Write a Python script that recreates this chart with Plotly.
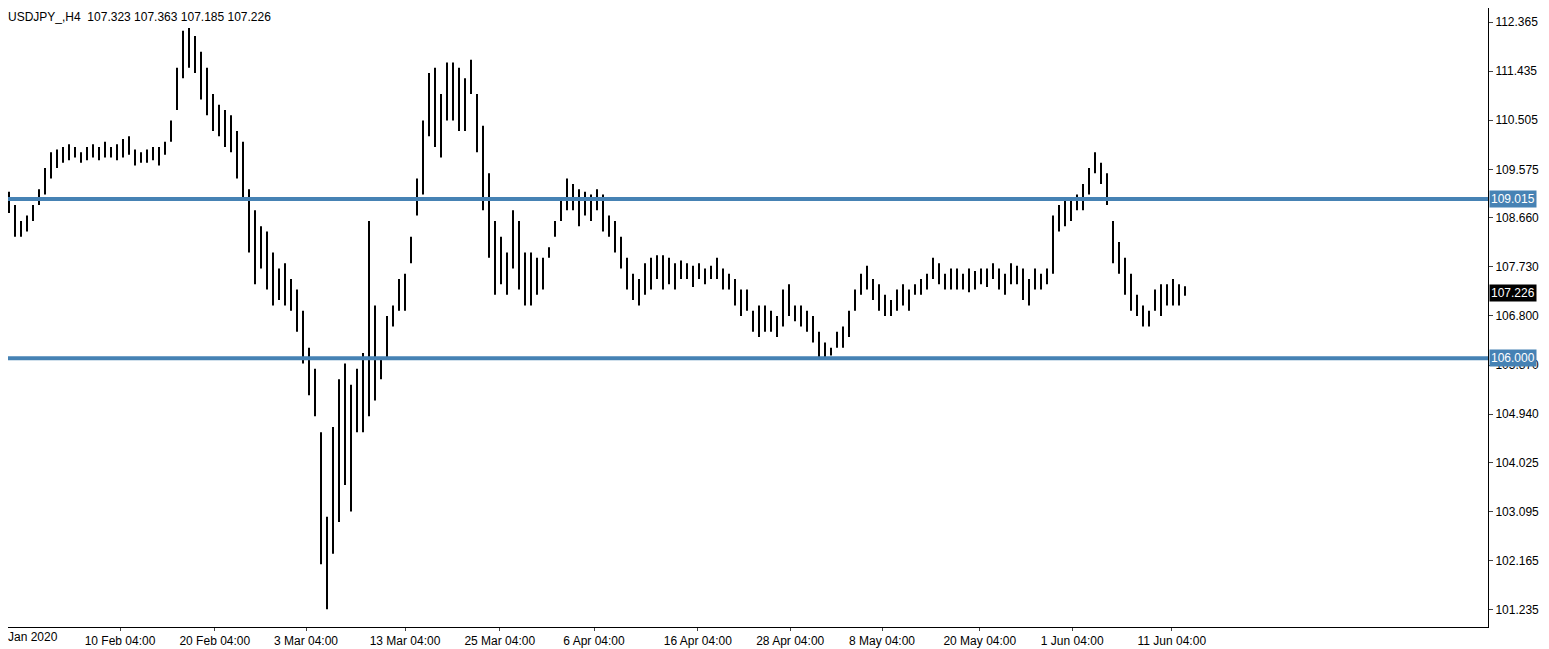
import plotly.graph_objects as go

# H4 bar highs / lows (one bar per ~6px)
highs = [109.1, 109.15, 108.9, 108.6, 108.7, 108.9, 109.2, 109.6, 109.9, 109.95,
         110.0, 110.05, 110.0, 109.9, 110.0, 110.05, 110.0, 110.1, 110.0, 110.05,
         110.15, 110.2, 109.95, 109.9, 109.95, 110.0, 110.0, 110.1, 110.5, 111.5,
         112.2, 112.25, 112.1, 111.8, 111.5, 111.0, 110.8, 110.7, 110.6, 110.3,
         110.1, 109.2, 108.8, 108.5, 108.4, 108.0, 107.7, 107.8, 107.5, 107.3,
         106.9, 106.2, 105.8, 104.6, 103.0, 104.7, 105.6, 105.9, 105.5, 105.8,
         106.1, 108.6, 107.0, 106.0, 106.8, 107.0, 107.5, 107.6, 108.3, 109.4,
         110.5, 111.4, 111.5, 111.0, 111.6, 111.6, 111.5, 111.3, 111.65, 111.0,
         110.4, 109.5, 108.6, 108.3, 108.0, 108.8, 108.6, 108.0, 108.0, 107.9,
         107.9, 108.1, 108.6, 109.0, 109.4, 109.3, 109.2, 109.15, 109.1, 109.2,
         109.1, 108.7, 108.6, 108.3, 107.9, 107.6, 107.5, 107.8, 107.9, 107.95,
         107.95, 107.9, 107.8, 107.85, 107.8, 107.75, 107.8, 107.7, 107.75, 107.9,
         107.7, 107.6, 107.5, 107.3, 107.3, 106.9, 107.0, 107.0, 106.9, 106.8,
         107.3, 107.4, 107.0, 107.0, 106.9, 106.8, 106.5, 106.3, 106.2, 106.5,
         106.6, 106.9, 107.3, 107.6, 107.75, 107.5, 107.4, 107.2, 107.1, 107.3,
         107.4, 107.3, 107.4, 107.5, 107.6, 107.9, 107.8, 107.6, 107.7, 107.7,
         107.6, 107.7, 107.65, 107.7, 107.7, 107.8, 107.7, 107.6, 107.8, 107.75,
         107.7, 107.5, 107.7, 107.6, 107.7, 108.7, 108.9, 109.0, 109.0, 109.1,
         109.3, 109.6, 109.9, 109.7, 109.5, 108.6, 108.2, 107.9, 107.6, 107.2,
         107.0, 106.9, 107.3, 107.4, 107.4, 107.5, 107.4, 107.363]
lows = [108.6, 108.75, 108.3, 108.3, 108.4, 108.6, 108.9, 109.1, 109.4, 109.6,
        109.7, 109.75, 109.8, 109.7, 109.75, 109.8, 109.75, 109.8, 109.8, 109.75,
        109.8, 109.85, 109.65, 109.7, 109.7, 109.75, 109.65, 109.85, 110.1, 110.7,
        111.3, 111.5, 111.4, 110.9, 110.6, 110.3, 110.2, 110.0, 109.9, 109.4,
        109.0, 108.0, 107.4, 107.7, 107.3, 107.0, 107.1, 107.0, 106.9, 106.5,
        105.9, 105.3, 104.9, 102.1, 101.25, 102.3, 102.9, 103.6, 103.1, 104.6,
        104.6, 104.9, 105.2, 105.6, 106.0, 106.6, 106.9, 106.9, 107.8, 108.7,
        109.1, 110.2, 110.0, 109.8, 110.5, 110.5, 110.3, 110.3, 111.0, 109.9,
        108.8, 107.9, 107.2, 107.4, 107.2, 107.7, 107.3, 107.0, 107.0, 107.2,
        107.3, 107.9, 108.3, 108.6, 108.8, 108.8, 108.5, 108.7, 108.6, 108.8,
        108.4, 108.3, 108.0, 107.7, 107.3, 107.1, 107.0, 107.2, 107.3, 107.5,
        107.3, 107.4, 107.3, 107.5, 107.5, 107.35, 107.5, 107.4, 107.5, 107.5,
        107.3, 107.3, 107.0, 106.8, 106.9, 106.5, 106.4, 106.5, 106.5, 106.4,
        106.6, 106.8, 106.7, 106.6, 106.5, 106.3, 106.0, 106.0, 106.05, 106.2,
        106.2, 106.4, 106.9, 107.2, 107.3, 107.1, 106.9, 106.8, 106.8, 106.9,
        107.0, 106.9, 107.2, 107.2, 107.3, 107.5, 107.4, 107.3, 107.3, 107.3,
        107.3, 107.25, 107.3, 107.4, 107.35, 107.5, 107.3, 107.2, 107.4, 107.4,
        107.1, 107.0, 107.3, 107.3, 107.4, 107.6, 108.4, 108.5, 108.6, 108.8,
        108.8, 109.1, 109.5, 109.3, 108.9, 107.8, 107.6, 107.2, 106.9, 106.8,
        106.6, 106.6, 106.9, 106.8, 107.0, 107.0, 107.0, 107.185]

first_label = "Jan 2020"
x_ticks = [19.5, 35.3, 50.5, 67, 82.8, 98.5, 115.8, 131.2, 146.5, 162.8, 178.2, 194.8]
x_labels = ["10 Feb 04:00", "20 Feb 04:00", "3 Mar 04:00", "13 Mar 04:00",
            "25 Mar 04:00", "6 Apr 04:00", "16 Apr 04:00", "28 Apr 04:00", "8 May 04:00",
            "20 May 04:00", "1 Jun 04:00", "11 Jun 04:00"]
y_ticks = [112.365, 111.435, 110.505, 109.575, 108.660, 107.730, 106.800,
           105.870, 104.940, 104.025, 103.095, 102.165, 101.235]
levels = [109.015, 106.000]
last_price = 107.226
title = "USDJPY_,H4  107.323 107.363 107.185 107.226"

idx = list(range(len(highs)))
fig = go.Figure(go.Bar(
    x=idx, y=[h - l for h, l in zip(highs, lows)], base=lows,
    width=0.3, marker=dict(color="black", line_width=0), hoverinfo="skip"))

for lv in levels:
    fig.add_shape(type="line", xref="paper", x0=0, x1=1, y0=lv, y1=lv,
                  line=dict(color="#4682B4", width=4))
    fig.add_annotation(xref="paper", x=1, y=lv, xanchor="left", text=f"{lv:.3f}",
                       showarrow=False, bgcolor="#4682B4", borderpad=1,
                       font=dict(color="white", size=12), xshift=1)
fig.add_annotation(xref="paper", x=1, y=last_price, xanchor="left", text=f"{last_price:.3f}",
                   showarrow=False, bgcolor="black", borderpad=1,
                   font=dict(color="white", size=12), xshift=1)
fig.add_annotation(xref="paper", yref="paper", x=0, y=1, xanchor="left", yanchor="top",
                   text=title, showarrow=False, font=dict(size=12, color="black"), xshift=-2)
fig.add_annotation(xref="paper", yref="paper", x=0, y=0, xanchor="left", yanchor="top",
                   text=first_label, showarrow=False, font=dict(size=12, color="black"),
                   xshift=-2, yshift=-1)

# the page body adds an 8px offset, so the figure is sized 8px smaller
fig.update_layout(
    width=1541, height=641, margin=dict(l=0, r=61, t=0, b=22, pad=0, autoexpand=False),
    plot_bgcolor="white", paper_bgcolor="white", showlegend=False,
    font=dict(family="Liberation Sans", size=12, color="black"),
    xaxis=dict(range=[0.833, 247.5], tickvals=x_ticks, ticktext=x_labels, showgrid=False,
               showline=True, linecolor="black", ticks="outside", ticklen=3,
               zeroline=False, automargin=False, tickfont=dict(size=12)),
    yaxis=dict(range=[100.912, 112.630], side="right", tickvals=y_ticks,
               ticktext=[f"{v:.3f}" for v in y_ticks], showgrid=False, showline=True,
               linecolor="black", ticks="outside", ticklen=4, zeroline=False,
               automargin=False, tickfont=dict(size=12)),
)
fig.write_html("out.html")
